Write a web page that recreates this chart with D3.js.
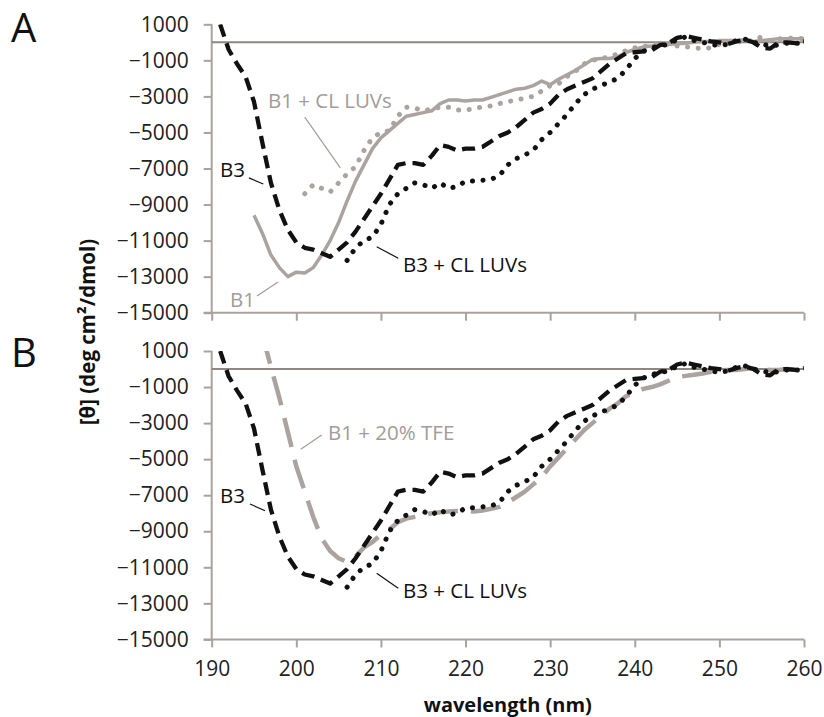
<!DOCTYPE html>
<html>
<head>
<meta charset="utf-8">
<script src="https://cdn.jsdelivr.net/npm/d3@7"></script>
<style>
    body { margin: 0; background: #fff; }
    svg { display: block; font-family: "Open Sans", sans-serif; }
    .axis path, .axis line { stroke: #a9a29d; stroke-width: 2; }
    .axis text { fill: #222; font-size: 21px; font-family: "Open Sans", sans-serif; }
</style>
</head>
<body>
<div id="chart"></div>
<script>

var wavelengths = d3.range(191, 261);

var yTicks = [1000, -1000, -3000, -5000, -7000, -9000, -11000, -13000, -15000];
var xTicks = [190, 200, 210, 220, 230, 240, 250, 260];

/*
 * Values below are indexed by wavelengths (191..260 nm), null = no reading.
 */
var b3 = [
    1000, -400, -1200, -1900, -3300, -5600, -7800, -9300, -10400, -11100,
    -11400, -11500, -11700, -11900, -11500, -11100, -10500, -9800, -9100, -8400,
    -7600, -6800, -6700, -6700, -6800, -6300, -5700, -5800, -6000, -5900,
    -5900, -5800, -5500, -5200, -5000, -4700, -4300, -3900, -3700, -3400,
    -2900, -2600, -2400, -2200, -2000, -1600, -1200, -900, -600, -550,
    -500, -450, -150, -50, 250, 350, 250, 150, 50, 0,
    -100, 50, 150, 0, -300, -350, 0, 0, -50, 50
];

var b3Cl = [
    null, null, null, null, null, null, null, null, null, null,
    null, null, null, null, null, -12100, -11400, -11000, -10800, -10100,
    -9000, -8400, -8100, -7800, -7900, -8100, -7800, -8100, -8000, -7700,
    -7700, -7650, -7600, -7400, -6800, -6450, -6250, -6000, -5400, -5000,
    -4500, -4000, -3400, -2900, -2600, -2400, -2200, -2000, -1500, -900,
    -500, -300, -200, -100, 150, 300, 100, 0, -100, -200,
    -100, 100, 180, 0, -100, -200, -150, -50, -50, -50
];

var b1 = [
    null, null, null, null, -9600, -10600, -11800, -12500, -13000, -12750,
    -12800, -12500, -11800, -11000, -10000, -8800, -7700, -6800, -5900, -5300,
    -4900, -4500, -4100, -4000, -3900, -3800, -3400, -3200, -3200, -3250,
    -3200, -3200, -3050, -2900, -2750, -2600, -2550, -2400, -2150, -2350,
    -2050, -1800, -1550, -1250, -950, -900, -900, -800, -550, -400,
    -250, -200, -150, -100, -80, -50, 0, 50, 50, 100,
    100, 100, 150, 50, 100, 150, 200, 200, 200, 200
];

var b1Cl = [
    null, null, null, null, null, null, null, null, null, null,
    -8400, -7900, -8100, -8300, -7800, -7300, -6900, -6000, -5300, -5000,
    -4900, -4100, -3600, -3650, -3800, -3700, -3600, -3600, -3750, -3750,
    -3700, -3570, -3530, -3400, -3290, -3200, -3100, -3000, -2700, -2400,
    -2300, -1900, -1600, -1200, -1000, -900, -800, -650, -450, -300,
    -240, -150, -100, -150, -200, -250, -300, -350, -300, -100,
    0, 50, 0, 150, 300, 100, 200, 200, 250, 200
];

var b1Tfe = [
    null, null, null, null, null, 1900, 100, -1600, -3500, -5400,
    -6800, -8200, -9400, -10100, -10500, -10700, -10400, -9900, -9600, -9200,
    -8900, -8500, -8300, -8200, -8100, -8000, -7950, -7900, -7870, -7870,
    -7900, -7850, -7750, -7650, -7400, -7100, -6800, -6400, -6000, -5400,
    -4900, -4400, -3900, -3400, -3000, -2600, -2200, -1900, -1500, -1300,
    -1100, -1000, -850, -650, -450, -380, -320, -250, -150, -100,
    -50, -50, 0, 50, 0, -50, -50, 0, -50, -50
];

var GREY = '#aba39f';
var BLACK = '#111';

var panels = [
    {
        letter: 'A', top: 24.3, showXLabels: false,
        series: [
            { values: b1, color: GREY, width: 3.5, dash: null },
            { values: b1Cl, color: GREY, width: 5, dash: '0.1,10.5' },
            { values: b3, color: BLACK, width: 4.3, dash: '13,7' },
            { values: b3Cl, color: BLACK, width: 5, dash: '0.1,10.5' }
        ],
        notes: [
            { text: 'B1 + CL LUVs', color: '#a39c98', at: [196.65, -3640], line: [[201.0, -4150], [205.2, -6970]] },
            { text: 'B3', color: BLACK, at: [190.98, -7470], line: [[194.4, -7520], [196.1, -7860]] },
            { text: 'B1', color: '#a39c98', at: [192.16, -14680], line: [[195.35, -14070], [197.84, -13290]] },
            { text: 'B3 + CL LUVs', color: BLACK, at: [212.61, -12740], line: [[209.5, -11340], [212.05, -11980]] }
        ]
    },
    {
        letter: 'B', top: 351, showXLabels: true,
        series: [
            { values: b1Tfe, color: GREY, width: 4.5, dash: '30,13' },
            { values: b3, color: BLACK, width: 4.3, dash: '13,7' },
            { values: b3Cl, color: BLACK, width: 5, dash: '0.1,10.5' }
        ],
        notes: [
            { text: 'B1 + 20% TFE', color: '#a39c98', at: [203.75, -3940], line: [[200.52, -4450], [203.0, -3660]] },
            { text: 'B3', color: BLACK, at: [190.98, -7430], line: [[194.53, -7490], [196.3, -7860]] },
            { text: 'B3 + CL LUVs', color: BLACK, at: [212.61, -12700], line: [[209.5, -11330], [212.05, -12160]] }
        ]
    }
];

var width = 824,
    height = 717,
    left = 211.7,
    right = 804,
    plotHeight = 288.4;

var svg = d3.select('#chart')
    .append('svg')
    .attr('width', width)
    .attr('height', height);

var x = d3.scaleLinear()
    .domain([190, 260])
    .range([left, right]);

panels.forEach(function(p, i) {

    var y = d3.scaleLinear()
        .domain([-15000, 1000])
        .range([p.top + plotHeight, p.top]);

    var g = svg.append('g').attr('class', 'panel');

    g.append('clipPath')
        .attr('id', 'clip' + i)
        .append('rect')
        .attr('x', left)
        .attr('y', p.top)
        .attr('width', right - left)
        .attr('height', plotHeight);

    /*
     * Axes.
     */
    var yAxis = g.append('g')
        .attr('class', 'axis')
        .attr('transform', 'translate(' + left + ',0)')
        .call(d3.axisLeft(y)
            .tickValues(yTicks)
            .tickFormat(d3.format('d'))
            .tickSize(8)
            .tickSizeOuter(0)
            .tickPadding(15));

    var xAxis = g.append('g')
        .attr('class', 'axis')
        .attr('transform', 'translate(0,' + y(-15000) + ')')
        .call(d3.axisBottom(x)
            .tickValues(xTicks)
            .tickFormat(d3.format('d'))
            .tickSize(8)
            .tickSizeOuter(0)
            .tickPadding(14));

    if (! p.showXLabels) {
        xAxis.selectAll('text').remove();
    }

    xAxis.select('.domain').attr('d', 'M' + (left - 8) + ',0H' + right);
    yAxis.select('.domain').attr('d', 'M0,' + y(1000) + 'V' + y(-15000));

    /*
     * Zero line.
     */
    g.append('line')
        .attr('x1', left)
        .attr('x2', right)
        .attr('y1', y(0))
        .attr('y2', y(0))
        .attr('stroke', '#8e8782')
        .attr('stroke-width', 2);

    /*
     * Spectra.
     */
    var line = d3.line()
        .defined(function(d) { return d[1] !== null; })
        .x(function(d) { return x(d[0]); })
        .y(function(d) { return y(d[1]); });

    var plot = g.append('g').attr('clip-path', 'url(#clip' + i + ')');

    p.series.forEach(function(s) {
        plot.append('path')
            .datum(wavelengths.map(function(w, k) { return [w, s.values[k]]; }))
            .attr('fill', 'none')
            .attr('stroke', s.color)
            .attr('stroke-width', s.width)
            .attr('stroke-linecap', s.dash && s.dash.indexOf('0.1') === 0 ? 'round' : 'butt')
            .attr('stroke-linejoin', 'round')
            .attr('stroke-dasharray', s.dash)
            .attr('d', line);
    });

    /*
     * Curve labels with leader lines.
     */
    p.notes.forEach(function(n) {
        g.append('line')
            .attr('x1', x(n.line[0][0]))
            .attr('y1', y(n.line[0][1]))
            .attr('x2', x(n.line[1][0]))
            .attr('y2', y(n.line[1][1]))
            .attr('stroke', n.color)
            .attr('stroke-width', 1.2);

        g.append('text')
            .attr('x', x(n.at[0]))
            .attr('y', y(n.at[1]))
            .attr('fill', n.color)
            .attr('font-size', 20.5)
            .text(n.text);
    });

    g.append('text')
        .attr('x', 11)
        .attr('y', p.top + (i === 0 ? 18 : 16))
        .attr('font-size', 40)
        .attr('fill', '#111')
        .text(p.letter);
});

svg.append('text')
    .attr('transform', 'translate(95,332) rotate(-90)')
    .attr('text-anchor', 'middle')
    .attr('font-size', 20.5)
    .attr('font-weight', 'bold')
    .attr('fill', '#111')
    .text('[θ] (deg cm²/dmol)');

svg.append('text')
    .attr('x', (left + right) / 2)
    .attr('y', 712)
    .attr('text-anchor', 'middle')
    .attr('font-size', 20)
    .attr('font-weight', 'bold')
    .attr('fill', '#111')
    .text('wavelength (nm)');

</script>
</body>
</html>
